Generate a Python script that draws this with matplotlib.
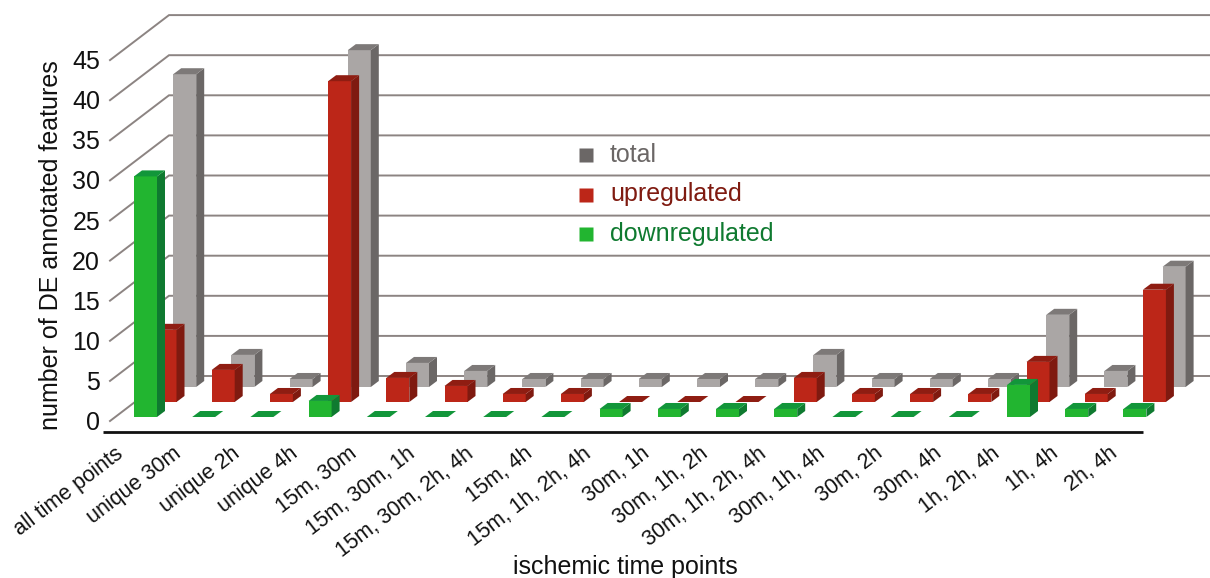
"""
Pseudo-3D bar chart of DE annotated features per ischemic time point set
"""

import matplotlib
matplotlib.use("Agg")
import matplotlib.pyplot as plt
from matplotlib.patches import Polygon

plt.rcParams['font.family'] = ['Liberation Sans', 'DejaVu Sans']

# 0. Data
categories = ["all time points", "unique 30m", "unique 2h", "unique 4h", "15m, 30m",
              "15m, 30m, 1h", "15m, 30m, 2h, 4h", "15m, 4h", "15m, 1h, 2h, 4h",
              "30m, 1h", "30m, 1h, 2h", "30m, 1h, 2h, 4h", "30m, 1h, 4h",
              "30m, 2h", "30m, 4h", "1h, 2h, 4h", "1h, 4h", "2h, 4h"]
downregulated = [30, 0, 0, 2, 0, 0, 0, 0, 1, 1, 1, 1, 0, 0, 0, 4, 1, 1]
upregulated   = [9, 4, 1, 40, 3, 2, 1, 1, 0, 0, 0, 3, 1, 1, 1, 5, 1, 14]
total         = [39, 4, 1, 42, 3, 2, 1, 1, 1, 1, 1, 4, 1, 1, 1, 9, 2, 15]
y_ticks = [0, 5, 10, 15, 20, 25, 30, 35, 40, 45]

# 1. Geometry: one x unit is one group, one y unit is one feature
PX_X = 58.2
PX_Y = 8.02
W, H = 1210, 578
ORIGIN_X, ORIGIN_Y = 134, 421    # pixel of group 0 / value 0 on the front floor edge

BAR_W = 23 / PX_X
SIDE_X = 8 / PX_X
SIDE_Y = 6 / PX_Y
WALL_LEFT = -24 / PX_X           # front end of the diagonal gridlines
WALL_DX = 59 / PX_X
WALL_DY = 45 / PX_Y
LABEL_STEP = 58.5 / PX_X         # rotated labels run a little wider than the bars

# series style: x shift, floor shift, front / side / top colours
GREEN = (0, 4 / PX_Y, '#22b530', '#0f7a30', '#12963a')
RED   = (19.5 / PX_X, 19 / PX_Y, '#bc2618', '#7f1a10', '#8f1d12')
GREY  = (39.2 / PX_X, 34 / PX_Y, '#aaa6a5', '#6b6766', '#7d7978')
GRID = '#8c8482'

fig = plt.figure(figsize=(W / 100, H / 100), dpi=100)
ax = fig.add_axes([0, 0, 1, 1])
ax.set_xlim(-ORIGIN_X / PX_X, (W - ORIGIN_X) / PX_X)
ax.set_ylim((ORIGIN_Y - H) / PX_Y, ORIGIN_Y / PX_Y)
ax.axis('off')


def draw_bar(x, value, style):
    dx, base, front, side, top = style
    x0 = x + dx
    x1 = x0 + BAR_W
    y1 = base + value
    if value > 0:
        ax.add_patch(Polygon([(x0, base), (x1, base), (x1, y1), (x0, y1)],
                             fc=front, ec='none', zorder=3))
        ax.add_patch(Polygon([(x1, base), (x1 + SIDE_X, base + SIDE_Y),
                              (x1 + SIDE_X, y1 + SIDE_Y), (x1, y1)],
                             fc=side, ec='none', zorder=3))
    ax.add_patch(Polygon([(x0, y1), (x1, y1), (x1 + SIDE_X, y1 + SIDE_Y),
                          (x0 + SIDE_X, y1 + SIDE_Y)],
                         fc=top, ec='none', zorder=3))


# 2. Walls
right_edge = ax.get_xlim()[1]
for v in y_ticks:
    ax.plot([WALL_LEFT, WALL_LEFT + WALL_DX, right_edge], [v, v + WALL_DY, v + WALL_DY],
            color=GRID, lw=1.4, zorder=1, solid_joinstyle='miter')
    ax.text(WALL_LEFT - 10 / PX_X, v - 2 / PX_Y, str(v), ha='right', va='center',
            fontsize=18, color='#111111')

# x axis line
ax.plot([-31 / PX_X, 1009 / PX_X], [-11 / PX_Y, -11 / PX_Y], color='#111111', lw=2, zorder=2,
        solid_capstyle='butt')

# 3. Bars, back row first
for series, style in [(total, GREY), (upregulated, RED), (downregulated, GREEN)]:
    for i, value in enumerate(series):
        draw_bar(i, value, style)

# 4. Text
for i, label in enumerate(categories):
    ax.text(i * LABEL_STEP - 20 / PX_X, -22 / PX_Y, label, rotation=37.5, rotation_mode='anchor',
            ha='right', va='top', fontsize=15.5, color='#111111')

ax.text(491 / PX_X, -158 / PX_Y, "ischemic time points", ha='center', va='bottom',
        fontsize=18, color='#111111')
ax.text(-83 / PX_X, 176 / PX_Y, "number of DE annotated features", rotation=90,
        ha='center', va='center', fontsize=18, color='#111111')

legend_labels = ["total", "upregulated", "downregulated"]
legend_colors = ['#6b6766', '#bc2618', '#22b530']
legend_text = ['#6b6766', '#7f1a10', '#0f7a30']
for k, label in enumerate(legend_labels):
    y = (ORIGIN_Y - (155 + 39.5 * k)) / PX_Y
    ax.plot([452 / PX_X], [y], marker='s', ms=10, color=legend_colors[k], mec='none', zorder=4)
    ax.text(476 / PX_X, y, label, ha='left', va='center', fontsize=18,
            color=legend_text[k], zorder=4)

fig.savefig("out.png", dpi=100, facecolor='white')
plt.close(fig)
